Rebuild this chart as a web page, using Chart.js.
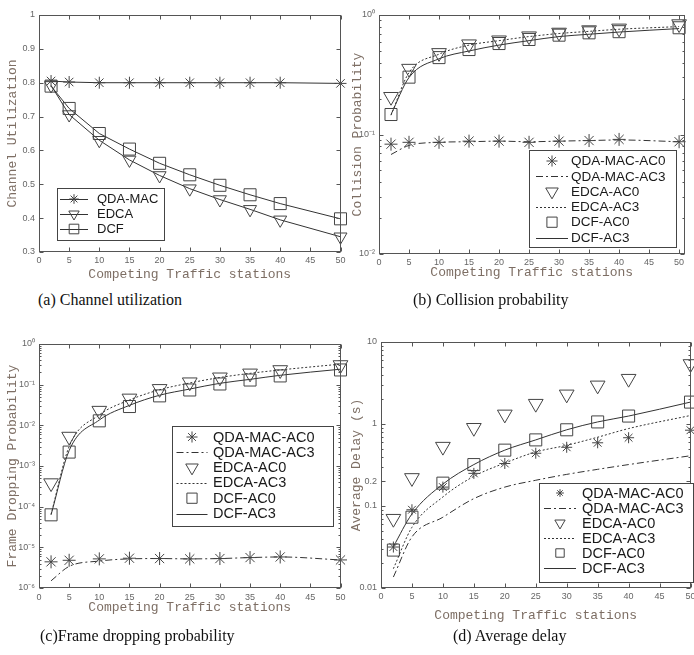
<!DOCTYPE html>
<html>
<head>
<meta charset="utf-8">
<script src="https://cdn.jsdelivr.net/npm/chart.js@4.4.1/dist/chart.umd.min.js"></script>
<style>
body { margin: 0; background: #fff; }
#page { position: relative; width: 694px; height: 655px; overflow: hidden; background: #fff; }
canvas { position: absolute; }
.cap { position: absolute; font-family: "Liberation Serif", "Times New Roman", serif; font-size: 16px; color: #111; white-space: nowrap; }
</style>
</head>
<body>
<div id="page">
  <canvas id="cu" width="350" height="290" style="left:0px;top:0px"></canvas>
  <canvas id="cp" width="354" height="290" style="left:340px;top:0px"></canvas>
  <canvas id="fd" width="350" height="310" style="left:0px;top:320px"></canvas>
  <canvas id="ad" width="360" height="310" style="left:340px;top:320px"></canvas>
  <div class="cap" style="left:38px;top:291px">(a) Channel utilization</div>
  <div class="cap" style="left:413px;top:291px">(b) Collision probability</div>
  <div class="cap" style="left:40px;top:627px">(c)Frame dropping probability</div>
  <div class="cap" style="left:453px;top:627px">(d) Average delay</div>
</div>
<script>
// number of competing stations (x values)
const stations = [2, 5, 10, 15, 20, 25, 30, 35, 40, 50];
const xTickVals = [0, 5, 10, 15, 20, 25, 30, 35, 40, 45, 50];

// (a) channel utilization
const utilQda = [0.805, 0.802, 0.80, 0.80, 0.80, 0.80, 0.80, 0.80, 0.80, 0.798];
const utilEdca = [0.792, 0.706, 0.630, 0.572, 0.526, 0.487, 0.455, 0.426, 0.395, 0.345];
const utilDcf = [0.790, 0.724, 0.650, 0.604, 0.562, 0.528, 0.497, 0.469, 0.443, 0.398];
const utilTicks = [0.3, 0.4, 0.5, 0.6, 0.7, 0.8, 0.9, 1];
const utilTickLabels = ['0.3', '0.4', '0.5', '0.6', '0.7', '0.8', '0.9', '1'];

// (b) collision probability
const collQdaAc0 = [0.083, 0.086, 0.086, 0.088, 0.088, 0.086, 0.088, 0.089, 0.091, 0.087];
const collQdaAc3 = [0.068, 0.081, 0.086, 0.087, 0.088, 0.087, 0.088, 0.089, 0.090, 0.087];
const collEdcaAc0 = [0.207, 0.356, 0.482, 0.570, 0.615, 0.665, 0.714, 0.748, 0.773, 0.84];
const collEdcaAc3 = [0.145, 0.33, 0.47, 0.56, 0.61, 0.66, 0.70, 0.73, 0.76, 0.80];
const collDcfAc0 = [0.147, 0.302, 0.44, 0.514, 0.577, 0.624, 0.678, 0.709, 0.725, 0.782];
const collDcfAc3 = [0.147, 0.30, 0.43, 0.50, 0.56, 0.61, 0.66, 0.69, 0.72, 0.77];
const collTicks = [0.01, 0.1, 1];
const collTickLabels = ['10⁻²', '10⁻¹', '10⁰'];

// (c) frame dropping probability
const dropQdaAc0 = [4.4e-6, 4.8e-6, 5.2e-6, 5.4e-6, 5.3e-6, 5.2e-6, 5.3e-6, 5.6e-6, 5.8e-6, 4.9e-6];
const dropQdaAc3 = [1.5e-6, 3.4e-6, 4.6e-6, 5.2e-6, 5.3e-6, 5.2e-6, 5.3e-6, 5.6e-6, 5.8e-6, 4.9e-6];
const dropEdcaAc0 = [3.8e-4, 5.3e-3, 0.023, 0.046, 0.079, 0.115, 0.152, 0.19, 0.23, 0.305];
const dropEdcaAc3 = [6.5e-5, 3.0e-3, 0.018, 0.042, 0.075, 0.11, 0.15, 0.19, 0.23, 0.32];
const dropDcfAc0 = [6.3e-5, 2.2e-3, 0.0129, 0.029, 0.053, 0.074, 0.104, 0.13, 0.164, 0.23];
const dropDcfAc3 = [6.3e-5, 2.4e-3, 0.0135, 0.031, 0.055, 0.078, 0.108, 0.135, 0.17, 0.24];
const dropTicks = [1e-6, 1e-5, 1e-4, 1e-3, 1e-2, 1e-1, 1];
const dropTickLabels = ['10⁻⁶', '10⁻⁵', '10⁻⁴', '10⁻³', '10⁻²', '10⁻¹', '10⁰'];

// (d) average delay (s)
const delayQdaAc0 = [0.0316, 0.09, 0.17, 0.25, 0.33, 0.44, 0.52, 0.59, 0.68, 0.84];
const delayQdaAc3 = [0.0136, 0.042, 0.073, 0.123, 0.17, 0.206, 0.243, 0.28, 0.32, 0.41];
const delayEdcaAc0 = [0.07, 0.22, 0.53, 0.90, 1.31, 1.77, 2.30, 2.96, 3.57, 5.4];
const delayEdcaAc3 = [0.0172, 0.055, 0.129, 0.23, 0.334, 0.456, 0.55, 0.69, 0.88, 1.27];
const delayDcfAc0 = [0.029, 0.073, 0.19, 0.32, 0.48, 0.64, 0.85, 1.06, 1.25, 1.85];
const delayDcfAc3 = [0.032, 0.08, 0.185, 0.32, 0.48, 0.64, 0.85, 1.06, 1.25, 1.85];
const delayTicks = [0.01, 0.1, 0.2, 1, 10];
const delayTickLabels = ['0.01', '0.1', '0.2', '1', '10'];

const titleColor = '#7d6e64';
const tickColor = '#666';
const monoFont = "'Liberation Mono', 'DejaVu Sans Mono', monospace";
const sansFont = "'Liberation Sans', Arial, sans-serif";

const pts = (vals) => stations.map((s, i) => ({ x: s, y: vals[i] }));

function markerSet(label, vals, shape, r) {
  return {
    label, data: pts(vals), showLine: false,
    pointStyle: shape, pointRotation: shape === 'triangle' ? 180 : 0,
    pointRadius: r, pointBorderWidth: 1, borderWidth: 0,
    pointBorderColor: '#444', pointBackgroundColor: 'rgba(0,0,0,0)',
    borderColor: '#444', clip: false
  };
}

function lineSet(label, vals, dash) {
  return {
    label, data: pts(vals), showLine: true, pointRadius: 0, borderWidth: 1,
    borderColor: '#333', borderDash: dash, cubicInterpolationMode: 'monotone',
    fill: false, clip: false
  };
}

function bothSet(label, vals, shape, r) {
  const d = markerSet(label, vals, shape, r);
  d.showLine = true;
  d.borderWidth = 1;
  d.borderColor = '#333';
  return d;
}

function drawMarker(ctx, shape, x, y, r) {
  ctx.beginPath();
  if (shape === 'star') {
    for (let k = 0; k < 4; k++) {
      const a = k * Math.PI / 4;
      ctx.moveTo(x - r * Math.cos(a), y - r * Math.sin(a));
      ctx.lineTo(x + r * Math.cos(a), y + r * Math.sin(a));
    }
  } else if (shape === 'triangle') {
    ctx.moveTo(x, y + r);
    ctx.lineTo(x - r * 0.866, y - r * 0.5);
    ctx.lineTo(x + r * 0.866, y - r * 0.5);
    ctx.closePath();
  } else if (shape === 'rect') {
    const s = r * Math.SQRT1_2;
    ctx.rect(x - s, y - s, 2 * s, 2 * s);
  }
  ctx.stroke();
}

// axes box with inward ticks (MATLAB look)
const framePlugin = {
  id: 'frame',
  afterDraw(chart) {
    const { ctx, chartArea: a, scales: { x, y } } = chart;
    const L = Math.round(a.left) + 0.5, R = Math.round(a.right) - 0.5;
    const T = Math.round(a.top) + 0.5, B = Math.round(a.bottom) - 0.5;
    ctx.save();
    ctx.strokeStyle = '#555';
    ctx.lineWidth = 1;
    ctx.strokeRect(L, T, R - L, B - T);
    ctx.beginPath();
    x.ticks.forEach(t => {
      const px = Math.round(x.getPixelForValue(t.value)) + 0.5;
      ctx.moveTo(px, B); ctx.lineTo(px, B - 4);
      ctx.moveTo(px, T); ctx.lineTo(px, T + 4);
    });
    y.ticks.forEach(t => {
      const py = Math.round(y.getPixelForValue(t.value)) + 0.5;
      ctx.moveTo(L, py); ctx.lineTo(L + 4, py);
      ctx.moveTo(R, py); ctx.lineTo(R - 4, py);
    });
    if (y.type === 'logarithmic') {
      for (let d = Math.log10(y.min); d < Math.log10(y.max); d++) {
        for (let m = 2; m < 10; m++) {
          const py = Math.round(y.getPixelForValue(m * Math.pow(10, d))) + 0.5;
          ctx.moveTo(L, py); ctx.lineTo(L + 2, py);
          ctx.moveTo(R, py); ctx.lineTo(R - 2, py);
        }
      }
    }
    ctx.stroke();
    ctx.restore();
  }
};

// legend box drawn inside the axes
const boxLegend = {
  id: 'boxLegend',
  afterDraw(chart, args, o) {
    const { ctx } = chart;
    ctx.save();
    ctx.fillStyle = '#fff';
    ctx.fillRect(o.left, o.top, o.width, o.height);
    ctx.strokeStyle = '#444';
    ctx.lineWidth = 1;
    ctx.strokeRect(o.left + 0.5, o.top + 0.5, o.width, o.height);
    ctx.font = o.fontSize + 'px ' + sansFont;
    ctx.textBaseline = 'middle';
    chart.data.datasets.forEach((ds, i) => {
      const yy = o.rowY + i * o.rowH;
      ctx.strokeStyle = '#333';
      if (ds.showLine !== false) {
        ctx.setLineDash(ds.borderDash || []);
        ctx.beginPath();
        ctx.moveTo(o.sampleX - o.sampleW / 2, Math.round(yy) + 0.5);
        ctx.lineTo(o.sampleX + o.sampleW / 2, Math.round(yy) + 0.5);
        ctx.stroke();
        ctx.setLineDash([]);
      }
      if (ds.pointRadius > 0) {
        ctx.strokeStyle = '#444';
        drawMarker(ctx, ds.pointStyle, o.sampleX, yy, ds.pointRadius * o.markerScale);
      }
      ctx.fillStyle = '#1a1a1a';
      ctx.fillText(ds.label, o.textX, yy + 0.5);
    });
    ctx.restore();
  }
};

function makeChart(id, datasets, yCfg, frame, legend) {
  return new Chart(document.getElementById(id), {
    type: 'scatter',
    data: { datasets },
    plugins: [framePlugin, boxLegend],
    options: {
      responsive: false,
      animation: false,
      events: [],
      layout: { padding: frame.pad },
      plugins: { legend: { display: false }, tooltip: { enabled: false }, boxLegend: legend },
      scales: {
        x: {
          type: 'linear', min: 0, max: frame.xmax,
          grid: { display: false, drawTicks: false }, border: { display: false },
          afterBuildTicks: s => { s.ticks = xTickVals.map(v => ({ value: v })); },
          ticks: { font: { family: sansFont, size: 9 }, color: tickColor, padding: frame.xTickPad, maxRotation: 0, autoSkip: false },
          title: { display: true, text: 'Competing Traffic stations', color: titleColor,
                   font: { family: monoFont, size: 13 }, padding: { top: 0, bottom: frame.xTitlePad } },
          afterFit: s => { s.height = frame.xh; s.paddingLeft = 0; s.paddingRight = 0; }
        },
        y: {
          type: yCfg.type, min: yCfg.min, max: yCfg.max,
          grid: { display: false, drawTicks: false }, border: { display: false },
          afterBuildTicks: s => { s.ticks = yCfg.ticks.map(v => ({ value: v })); },
          ticks: { font: { family: sansFont, size: 9 }, color: tickColor, padding: 4, autoSkip: false,
                   callback: (v, i) => yCfg.labels[i] },
          title: { display: true, text: yCfg.title, color: titleColor,
                   font: { family: monoFont, size: 13 }, padding: { top: frame.yTitlePad, bottom: 0 } },
          afterFit: s => { s.width = frame.yw; s.paddingTop = 0; s.paddingBottom = 0; }
        }
      }
    }
  });
}

makeChart('cu', [
  bothSet('QDA-MAC', utilQda, 'star', 6),
  bothSet('EDCA', utilEdca, 'triangle', 7.5),
  bothSet('DCF', utilDcf, 'rect', 8.5)
], { type: 'linear', min: 0.3, max: 1, ticks: utilTicks, labels: utilTickLabels, title: 'Channel Utilization' },
{ pad: { left: 0, right: 7, top: 15, bottom: 0 }, yw: 39, xh: 38, xmax: 50, xTickPad: 3, xTitlePad: 8, yTitlePad: 5 },
{ left: 57, top: 188, width: 107, height: 52, rowY: 199, rowH: 15, sampleX: 74, sampleW: 28, textX: 97, fontSize: 13, markerScale: 0.8 });

makeChart('cp', [
  markerSet('QDA-MAC-AC0', collQdaAc0, 'star', 6.5),
  lineSet('QDA-MAC-AC3', collQdaAc3, [7, 3, 2, 3]),
  markerSet('EDCA-AC0', collEdcaAc0, 'triangle', 8.5),
  lineSet('EDCA-AC3', collEdcaAc3, [2, 2]),
  markerSet('DCF-AC0', collDcfAc0, 'rect', 8.5),
  lineSet('DCF-AC3', collDcfAc3, [])
], { type: 'logarithmic', min: 0.01, max: 1, ticks: collTicks, labels: collTickLabels, title: 'Collision Probability' },
{ pad: { left: 0, right: 1, top: 15, bottom: 0 }, yw: 39, xh: 36, xmax: 50.9, xTickPad: 3, xTitlePad: 10, yTitlePad: 10 },
{ left: 189, top: 150, width: 147, height: 97, rowY: 161, rowH: 15.3, sampleX: 212, sampleW: 32, textX: 231, fontSize: 13.5, markerScale: 0.85 });

makeChart('fd', [
  markerSet('QDA-MAC-AC0', dropQdaAc0, 'star', 6.5),
  lineSet('QDA-MAC-AC3', dropQdaAc3, [7, 3, 2, 3]),
  markerSet('EDCA-AC0', dropEdcaAc0, 'triangle', 8.5),
  lineSet('EDCA-AC3', dropEdcaAc3, [2, 2]),
  markerSet('DCF-AC0', dropDcfAc0, 'rect', 8.5),
  lineSet('DCF-AC3', dropDcfAc3, [])
], { type: 'logarithmic', min: 1e-6, max: 1, ticks: dropTicks, labels: dropTickLabels, title: 'Frame Dropping Probability' },
{ pad: { left: 0, right: 4, top: 24, bottom: 0 }, yw: 39, xh: 42, xmax: 50, xTickPad: 4, xTitlePad: 15, yTitlePad: 5 },
{ left: 172, top: 106, width: 161, height: 100, rowY: 117, rowH: 15.3, sampleX: 192, sampleW: 31, textX: 213, fontSize: 14.5, markerScale: 0.85 });

makeChart('ad', [
  markerSet('QDA-MAC-AC0', delayQdaAc0, 'star', 5.5),
  lineSet('QDA-MAC-AC3', delayQdaAc3, [7, 3, 2, 3]),
  markerSet('EDCA-AC0', delayEdcaAc0, 'triangle', 8.5),
  lineSet('EDCA-AC3', delayEdcaAc3, [2, 2]),
  markerSet('DCF-AC0', delayDcfAc0, 'rect', 8.5),
  lineSet('DCF-AC3', delayDcfAc3, [])
], { type: 'logarithmic', min: 0.01, max: 10, ticks: delayTicks, labels: delayTickLabels, title: 'Average Delay (s)' },
{ pad: { left: 0, right: 5, top: 22, bottom: 0 }, yw: 41, xh: 42, xmax: 50, xTickPad: 3, xTitlePad: 7, yTitlePad: 9 },
{ left: 199, top: 163, width: 154, height: 99, rowY: 173, rowH: 15, sampleX: 220, sampleW: 32, textX: 242, fontSize: 14.5, markerScale: 0.7 });
</script>
</body>
</html>
